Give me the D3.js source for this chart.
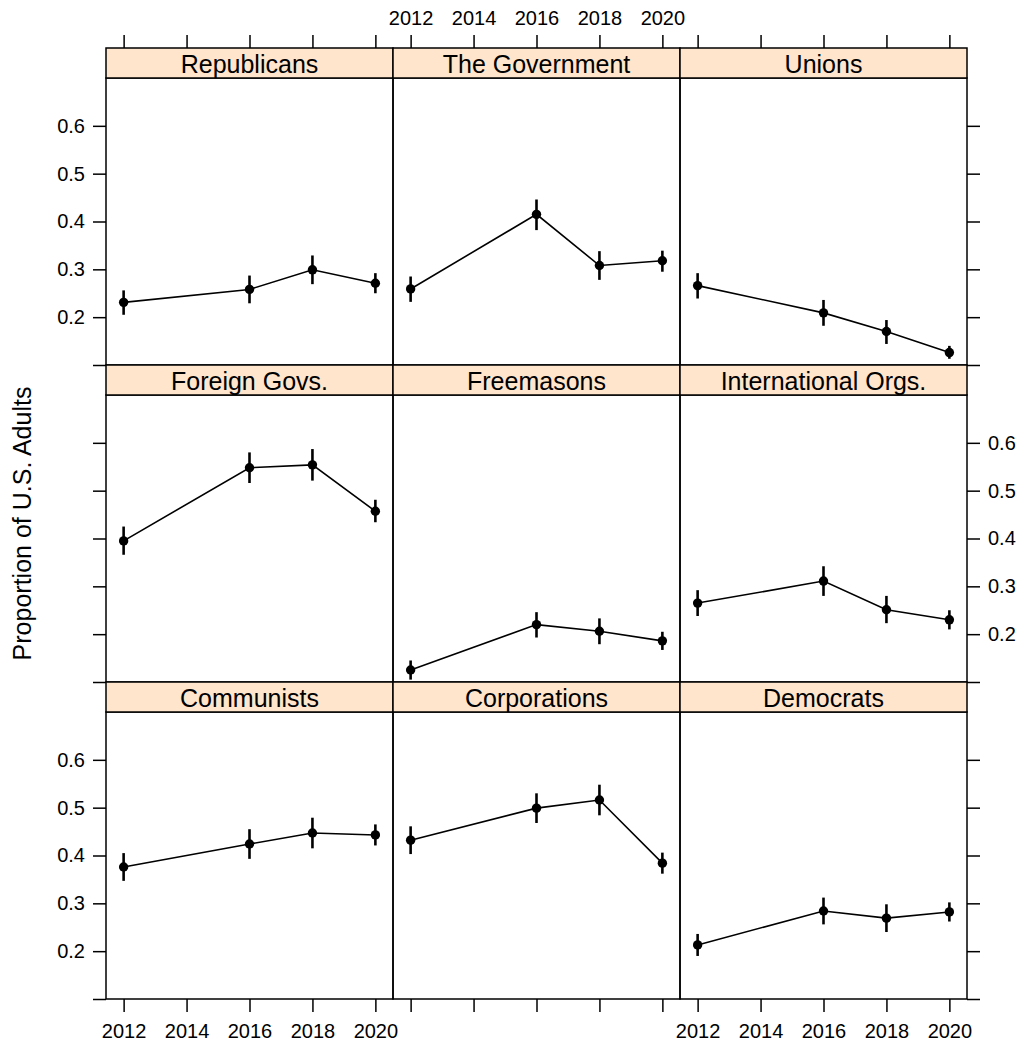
<!DOCTYPE html>
<html><head><meta charset="utf-8">
<script src="https://cdn.jsdelivr.net/npm/d3@7"></script>
<style>body{margin:0;background:#fff} text{font-family:"Liberation Sans",Arial,sans-serif;fill:#000}</style>
</head><body><svg id="c" width="1024" height="1043"></svg>
<script>
const panels = ["Republicans","The Government","Unions","Foreign Govs.","Freemasons","International Orgs.","Communists","Corporations","Democrats"];
const years = [2012, 2016, 2018, 2020];
const xTicks = [2012, 2014, 2016, 2018, 2020];
const yTicks = [0.1, 0.2, 0.3, 0.4, 0.5, 0.6];
const yTickLabels = ["", "0.2", "0.3", "0.4", "0.5", "0.6"];
const yLabel = "Proportion of U.S. Adults";
// one row per panel, columns follow `years`
const estimates = [
  [0.231, 0.258, 0.299, 0.271],
  [0.259, 0.415, 0.308, 0.318],
  [0.266, 0.209, 0.170, 0.126],
  [0.395, 0.548, 0.554, 0.457],
  [0.125, 0.220, 0.206, 0.186],
  [0.265, 0.311, 0.251, 0.230],
  [0.376, 0.424, 0.447, 0.443],
  [0.432, 0.499, 0.516, 0.384],
  [0.213, 0.284, 0.269, 0.282]
];
const lowerCI = [
  [0.205, 0.229, 0.269, 0.250],
  [0.232, 0.382, 0.278, 0.295],
  [0.239, 0.182, 0.144, 0.113],
  [0.366, 0.516, 0.521, 0.434],
  [0.105, 0.193, 0.179, 0.167],
  [0.238, 0.280, 0.223, 0.210],
  [0.347, 0.393, 0.415, 0.421],
  [0.403, 0.468, 0.484, 0.362],
  [0.190, 0.256, 0.240, 0.262]
];
const upperCI = [
  [0.256, 0.287, 0.329, 0.292],
  [0.285, 0.446, 0.338, 0.339],
  [0.292, 0.236, 0.194, 0.140],
  [0.425, 0.580, 0.587, 0.481],
  [0.145, 0.246, 0.233, 0.205],
  [0.292, 0.342, 0.280, 0.250],
  [0.405, 0.455, 0.479, 0.465],
  [0.461, 0.530, 0.548, 0.406],
  [0.236, 0.312, 0.298, 0.302]
];

const svg = d3.select("#c");
const L = 106, colW = 287, T0 = 48, stripH = 30, panelH = 287, rowH = stripH + panelH;
const x = d3.scaleLinear().domain([2011.44, 2020.56]).range([0, colW]);
const y = d3.scaleLinear().domain([0.1, 0.7]).range([panelH, 0]);
const tickLen = 13, axisFont = 20, stripFont = 25;

panels.forEach((name, i) => {
  const r = Math.floor(i / 3), c = i % 3;
  const px = L + c * colW, sy = T0 + r * rowH, py = sy + stripH;
  const g = svg.append("g").attr("transform", `translate(${px},${py})`);
  // strip
  svg.append("rect").attr("x", px).attr("y", sy).attr("width", colW).attr("height", stripH)
    .attr("fill", "#ffe5cc").attr("stroke", "#000").attr("stroke-width", 1.5);
  svg.append("text").attr("x", px + colW / 2).attr("y", sy + stripH / 2 + 1)
    .attr("text-anchor", "middle").attr("dominant-baseline", "central")
    .attr("font-size", stripFont).text(name);
  // panel box
  g.append("rect").attr("width", colW).attr("height", panelH)
    .attr("fill", "none").attr("stroke", "#000").attr("stroke-width", 1.5);

  // line
  const pts = years.map((yr, k) => ({yr, v: estimates[i][k], lo: lowerCI[i][k], hi: upperCI[i][k]}));
  g.append("path").datum(pts)
    .attr("d", d3.line().x(d => x(d.yr)).y(d => y(d.v)))
    .attr("fill", "none").attr("stroke", "#000").attr("stroke-width", 1.6);
  g.selectAll("line.err").data(pts).join("line").attr("class", "err")
    .attr("x1", d => x(d.yr)).attr("x2", d => x(d.yr))
    .attr("y1", d => y(d.lo)).attr("y2", d => y(d.hi))
    .attr("stroke", "#000").attr("stroke-width", 2.6);
  g.selectAll("circle").data(pts).join("circle")
    .attr("cx", d => x(d.yr)).attr("cy", d => y(d.v)).attr("r", 4.7).attr("fill", "#000");

  // left axis (col 0)
  if (c === 0) {
    const ax = d3.axisLeft(y).tickValues(yTicks).tickSize(tickLen).tickPadding(8)
      .tickFormat((d, k) => r === 1 ? "" : yTickLabels[k]);
    const a = g.append("g").call(ax);
    a.select(".domain").remove();
  }
  if (c === 2) {
    const ax = d3.axisRight(y).tickValues(yTicks).tickSize(tickLen).tickPadding(8)
      .tickFormat((d, k) => r === 1 ? yTickLabels[k] : "");
    const a = g.append("g").attr("transform", `translate(${colW},0)`).call(ax);
    a.select(".domain").remove();
  }
  if (r === 0) {
    const ax = d3.axisTop(x).tickValues(xTicks).tickSize(tickLen).tickPadding(10)
      .tickFormat(d => c === 1 ? d : "");
    const a = svg.append("g").attr("transform", `translate(${px},${sy})`).call(ax);
    a.select(".domain").remove();
  }
  if (r === 2) {
    const ax = d3.axisBottom(x).tickValues(xTicks).tickSize(tickLen).tickPadding(12)
      .tickFormat(d => c === 1 ? "" : d);
    const a = g.append("g").attr("transform", `translate(0,${panelH})`).call(ax);
    a.select(".domain").remove();
  }
});
svg.selectAll(".tick line").attr("stroke", "#000").attr("stroke-width", 1.5);
svg.selectAll(".tick text").attr("font-size", axisFont).attr("font-family", "Liberation Sans, Arial, sans-serif").attr("fill", "#000");

svg.append("text").attr("transform", `translate(22,${T0 + (3 * rowH) / 2}) rotate(-90)`)
  .attr("text-anchor", "middle").attr("dominant-baseline", "central")
  .attr("font-size", 25).text(yLabel);
</script></body></html>
